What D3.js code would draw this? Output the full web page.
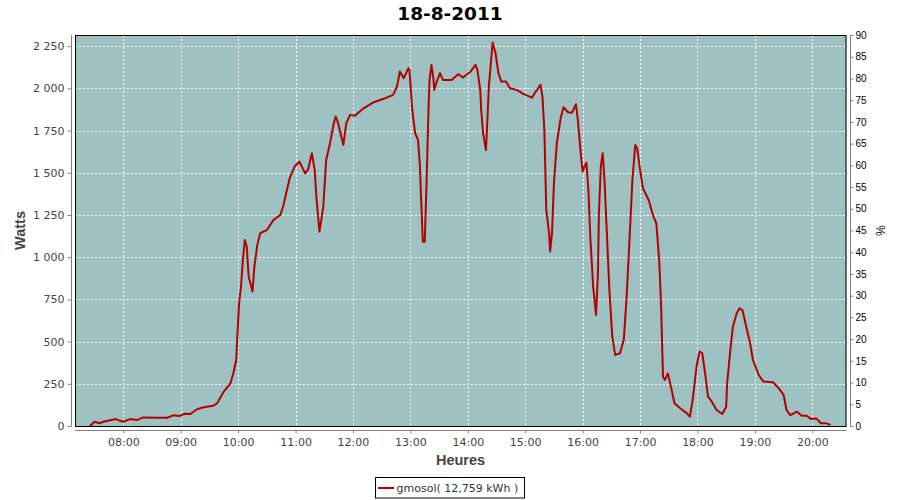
<!DOCTYPE html>
<html>
<head>
<meta charset="utf-8">
<script src="https://cdn.jsdelivr.net/npm/d3@7"></script>
<style>
  html, body { margin: 0; padding: 0; background: #ffffff; }
  svg { display: block; }
</style>
</head>
<body>
<svg id="chart" width="900" height="500"></svg>
<script>
// ---- data ----
const title = "18-8-2011";
const seriesName = "gmosol( 12,759 kWh )";
const xTitle = "Heures";
const yTitle = "Watts";
const y2Title = "%";
const times = [
  "07:25","07:30","07:35","07:39","07:44","07:52","08:00","08:07","08:14","08:21",
  "08:35","08:46","08:52","08:59","09:04","09:10","09:17","09:22","09:27","09:34",
  "09:38","09:41","09:45","09:52","09:55","09:58","09:59","10:01","10:03","10:05",
  "10:07","10:09","10:11","10:15","10:17","10:20","10:23","10:30","10:37","10:44",
  "10:47","10:51","10:54","10:59","11:04","11:10","11:13","11:17","11:20","11:22",
  "11:25","11:29","11:32","11:36","11:40","11:42","11:44","11:50","11:53","11:57",
  "12:02","12:11","12:21","12:32","12:42","12:46","12:49","12:53","12:58","12:59",
  "13:02","13:05","13:08","13:10","13:11","13:13","13:15","13:17","13:18","13:19",
  "13:20","13:22","13:24","13:25","13:27","13:31","13:34","13:43","13:50","13:55",
  "14:03","14:08","14:10","14:13","14:14","14:16","14:19","14:20","14:22","14:25",
  "14:26","14:29","14:32","14:35","14:40","14:44","14:51","14:58","15:07","15:11",
  "15:16","15:18","15:20","15:22","15:25","15:26","15:28","15:30","15:33","15:37",
  "15:40","15:45","15:49","15:53","15:55","15:58","16:00","16:02","16:04","16:06",
  "16:08","16:11","16:14","16:16","16:17","16:19","16:21","16:23","16:25","16:28",
  "16:31","16:34","16:39","16:43","16:46","16:50","16:52","16:55","16:57","17:00",
  "17:03","17:09","17:14","17:17","17:20","17:22","17:24","17:26","17:29","17:33",
  "17:36","17:42","17:49","17:52","17:55","17:59","18:02","18:05","18:08","18:11",
  "18:15","18:20","18:26","18:30","18:31","18:34","18:37","18:41","18:44","18:47",
  "18:51","18:55","18:58","19:04","19:09","19:19","19:25","19:30","19:33","19:37",
  "19:44","19:49","19:54","19:59","20:04","20:09","20:15","20:19"
];
const watts = [
  0,25,16,25,31,41,25,41,35,51,
  49,49,63,59,73,71,99,108,114,120,
  134,164,203,253,312,391,510,727,825,984,
  1102,1063,885,796,944,1072,1142,1161,1221,1250,
  1300,1398,1470,1537,1566,1497,1517,1616,1517,1339,
  1151,1300,1576,1675,1794,1833,1803,1665,1794,1843,
  1837,1882,1916,1938,1961,2011,2100,2060,2120,2109,
  1872,1734,1695,1537,1379,1092,1092,1458,1675,1892,
  2050,2139,2060,1991,2031,2090,2050,2050,2084,2064,
  2100,2139,2109,1991,1872,1734,1635,1754,2011,2208,
  2271,2208,2090,2040,2040,2001,1991,1967,1945,1981,
  2021,1951,1754,1280,1142,1033,1142,1438,1675,1823,
  1888,1857,1857,1906,1813,1616,1507,1537,1560,1400,
  1122,826,658,905,1260,1537,1616,1438,1181,800,
  529,421,431,510,766,1221,1458,1665,1645,1517,
  1408,1339,1240,1201,984,707,292,273,312,213,
  135,105,75,55,154,351,440,431,312,174,
  144,95,71,114,253,431,588,668,697,687,
  588,490,391,302,263,259,223,184,95,65,
  85,61,61,41,45,16,16,6
];
const xDomain = ["07:09:32", "20:35:44"];
const yMax = 2316;
const yTicks = [0,250,500,750,1000,1250,1500,1750,2000,2250];
const y2Max = 90;
const y2Ticks = [0,5,10,15,20,25,30,35,40,45,50,55,60,65,70,75,80,85,90];

// ---- layout ----
const svg = d3.select("#chart");
const L = 75, R = 846.5, T = 35, B = 426;
const parseT = s => {
  const p = s.split(":").map(Number);
  return new Date(2011, 7, 18, p[0], p[1], p[2] || 0);
};
const x = d3.scaleTime().domain(xDomain.map(parseT)).range([L, R]);
const y = d3.scaleLinear().domain([0, yMax]).range([B, T]);
const y2 = d3.scaleLinear().domain([0, y2Max]).range([B, T]);
const locale = d3.formatLocale({decimal: ",", thousands: " ", grouping: [3], currency: ["", ""]});
const fmtY = locale.format(",d");
const data = times.map((t, i) => ({t: parseT(t), v: watts[i]}));

// plot background
svg.append("rect").attr("x", L).attr("y", T).attr("width", R - L).attr("height", B - T)
  .attr("fill", "#9ec2c2");

// grid
const hourTicks = x.ticks(d3.timeHour.every(1));
svg.append("g").selectAll("line").data(hourTicks).join("line")
  .attr("x1", d => Math.round(x(d)) + 0.5).attr("x2", d => Math.round(x(d)) + 0.5)
  .attr("y1", T).attr("y2", B)
  .attr("stroke", "#ffffff").attr("stroke-dasharray", "2,2").attr("stroke-width", 1);
svg.append("g").selectAll("line").data(yTicks).join("line")
  .attr("x1", L).attr("x2", R)
  .attr("y1", d => Math.round(y(d)) + 0.5).attr("y2", d => Math.round(y(d)) + 0.5)
  .attr("stroke", "#ffffff").attr("stroke-dasharray", "2,2").attr("stroke-width", 1);

// line
svg.append("path").datum(data)
  .attr("d", d3.line().x(d => x(d.t)).y(d => y(d.v)))
  .attr("fill", "none").attr("stroke", "#b40000").attr("stroke-width", 2)
  .attr("stroke-linejoin", "round");

// border
svg.append("rect").attr("x", L + 0.5).attr("y", T + 0.5).attr("width", R - L - 1).attr("height", B - T)
  .attr("fill", "none").attr("stroke", "#000").attr("stroke-width", 1);

// axes
function styleAxis(g, col, font, size) {
  g.select(".domain").attr("stroke", "#808080");
  g.selectAll(".tick line").attr("stroke", "#808080");
  g.selectAll(".tick text").attr("fill", col).attr("font-family", font).attr("font-size", size);
}
const gL = svg.append("g").attr("transform", "translate(71.5,0)")
  .call(d3.axisLeft(y).tickValues(yTicks).tickFormat(fmtY).tickSize(4).tickSizeOuter(0).tickPadding(3));
gL.select(".domain").attr("d", `M0,${T}V${B}`);
styleAxis(gL, "#444444", "DejaVu Sans", "11px");

const gB = svg.append("g").attr("transform", "translate(0,430.5)")
  .call(d3.axisBottom(x).ticks(d3.timeHour.every(1)).tickFormat(d3.timeFormat("%H:%M")).tickSize(3).tickSizeOuter(0).tickPadding(5));
gB.select(".domain").attr("d", `M${L},0H${R}`);
styleAxis(gB, "#444444", "DejaVu Sans", "11px");

const gR = svg.append("g").attr("transform", "translate(850.5,0)")
  .call(d3.axisRight(y2).tickValues(y2Ticks).tickFormat(d3.format("d")).tickSize(3).tickSizeOuter(0).tickPadding(2));
gR.select(".domain").attr("d", `M0,${T}V${B}`);
styleAxis(gR, "#000000", "Liberation Sans", "10px");

// titles
svg.append("text").attr("x", 450).attr("y", 20).attr("text-anchor", "middle")
  .attr("font-family", "DejaVu Sans").attr("font-weight", "bold").attr("font-size", "18.5px")
  .attr("fill", "#000").text(title);
svg.append("text").attr("x", 460.5).attr("y", 465).attr("text-anchor", "middle")
  .attr("font-family", "Liberation Sans").attr("font-weight", "bold").attr("font-size", "14.5px")
  .attr("fill", "#444").text(xTitle);
svg.append("text").attr("transform", "translate(25,230.5) rotate(-90)").attr("text-anchor", "middle")
  .attr("font-family", "Liberation Sans").attr("font-weight", "bold").attr("font-size", "14.5px")
  .attr("fill", "#444").text(yTitle);
svg.append("text").attr("transform", "translate(876,230.5) rotate(90)").attr("text-anchor", "middle")
  .attr("font-family", "Liberation Sans").attr("font-size", "12px")
  .attr("fill", "#000").text(y2Title);

// legend
const lg = svg.append("g");
lg.append("rect").attr("x", 375.5).attr("y", 477.5).attr("width", 149).attr("height", 20.5)
  .attr("fill", "#fff").attr("stroke", "#000").attr("stroke-width", 1);
lg.append("line").attr("x1", 378).attr("x2", 394).attr("y1", 488).attr("y2", 488)
  .attr("stroke", "#b40000").attr("stroke-width", 2);
lg.append("text").attr("x", 396.5).attr("y", 492).attr("font-family", "DejaVu Sans").attr("font-size", "11px")
  .attr("fill", "#333").text(seriesName);
</script>
</body>
</html>
